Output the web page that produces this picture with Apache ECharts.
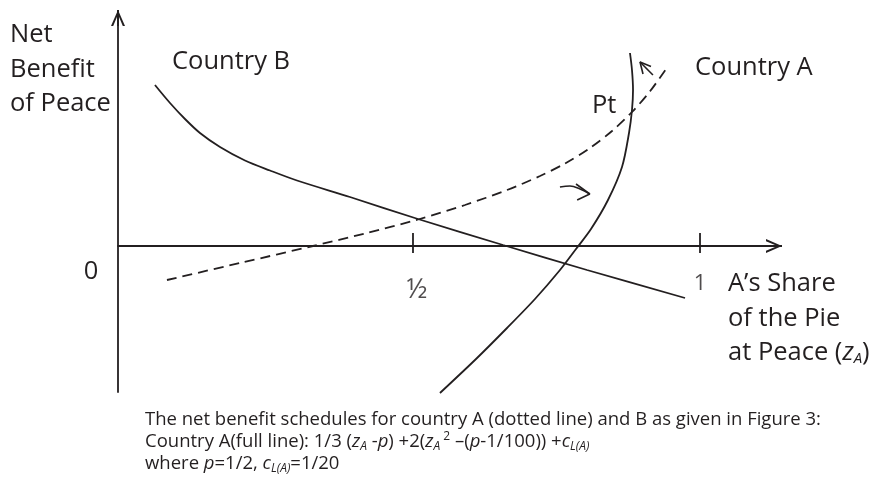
<!DOCTYPE html>
<html>
<head>
<meta charset="utf-8">
<script src="https://cdn.jsdelivr.net/npm/echarts/dist/echarts.min.js"></script>
<style>
  html, body { margin: 0; padding: 0; background: #fff; }
  #chart { width: 875px; height: 486px; }
</style>
</head>
<body>
<div id="chart"></div>
<script>
// x = A's share of the pie, y = net benefit of peace (arbitrary units)
const countryBX = [0.0505, 0.0767, 0.1028, 0.1289, 0.1638, 0.2073, 0.2509, 0.2979, 0.3902, 0.5087, 0.6568, 0.8031, 0.9739];
const countryBY = [0.805, 0.715, 0.635, 0.565, 0.495, 0.4275, 0.3775, 0.3275, 0.245, 0.135, 0.005, -0.12, -0.26];

const countryAX = [0.0714, 0.1986, 0.3258, 0.4164, 0.5087, 0.5906, 0.6638, 0.7213, 0.7648, 0.8084, 0.8467, 0.8815, 0.9129, 0.9408];
const countryAY = [-0.17, -0.085, 0.0, 0.0625, 0.1325, 0.205, 0.28, 0.35, 0.4125, 0.49, 0.575, 0.67, 0.7735, 0.885];

const ptX = [0.547, 0.6098, 0.6638, 0.7125, 0.7561, 0.784, 0.8101, 0.8397, 0.8641, 0.8763, 0.8815, 0.8833, 0.8815, 0.878];
const ptY = [-0.735, -0.565, -0.41, -0.265, -0.12, -0.015, 0.085, 0.23, 0.395, 0.565, 0.68, 0.78, 0.88, 0.965];

// small shift arrows
const arrowLowShaft = [[0.756, 0.295], [0.7735, 0.30], [0.791, 0.285], [0.808, 0.26]];
const arrowLowHead = [[0.784, 0.31], [0.808, 0.26], [0.786, 0.23]];
const arrowHighShaft = [[0.918, 0.855], [0.8955, 0.92]];
const arrowHighHead = [[0.9146, 0.897], [0.8955, 0.92], [0.9007, 0.86]];

const tickValues = [0.5, 1];
const tickLabels = ['½', '1'];
const originLabel = '0';

const yAxisTitle = ['Net', 'Benefit', 'of Peace'];
const xAxisTitle = ['A’s Share', 'of the Pie', 'at Peace ({i|z}{sub|A})'];
const curveLabels = ['Country B', 'Country A', 'Pt'];

const caption = [
  'The net benefit schedules for country A (dotted line) and B as given in Figure 3:',
  'Country A(full line): 1/3 ({i|z}{sub|A} -{i|p}) +2({i|z}{sub|A}{sup| 2} –({i|p}-1/100)) +{i|c}{sub|L(A)}',
  'where {i|p}=1/2, {i|c}{sub|L(A)}=1/20'
];

const INK = '#231f20';
const FONT = '"Open Sans", "Noto Sans", sans-serif';
const BIG = 25.5;
const arrowPath = 'path://M0,16 L7,0 L14,16 L11.8,16 L7,4.6 L2.2,16 Z M6,0 L8,0 L8,16 L6,16 Z';

function zip(xs, ys) {
  return xs.map((x, i) => [x, ys[i]]);
}

function lineSeries(data, opts) {
  return Object.assign({
    type: 'line',
    data: data,
    symbol: 'none',
    clip: false,
    silent: true,
    lineStyle: { color: INK, width: 1.8 }
  }, opts || {});
}

const series = [
  lineSeries(zip(countryBX, countryBY), { smooth: 0.3 }),
  lineSeries(zip(countryAX, countryAY), { smooth: 0.3, lineStyle: { color: INK, width: 1.8, type: [10, 6] } }),
  lineSeries(zip(ptX, ptY), { smooth: 0.3 }),
  lineSeries(arrowLowShaft, { smooth: 0.4, lineStyle: { color: INK, width: 1.6 } }),
  lineSeries(arrowLowHead, { lineStyle: { color: INK, width: 1.6 } }),
  lineSeries(arrowHighShaft, { lineStyle: { color: INK, width: 1.6 } }),
  lineSeries(arrowHighHead, { lineStyle: { color: INK, width: 1.6 } })
];
tickValues.forEach(v => {
  series.push(lineSeries([[v, -0.035], [v, 0.065]], { lineStyle: { color: INK, width: 1.8 } }));
});
// tick labels hang under the axis
series.push({
  type: 'scatter',
  symbolSize: 0,
  silent: true,
  data: tickValues.map((v, i) => ({
    value: [v, 0],
    label: tickLabels[i] === '½' ? { offset: [4, 4], fontSize: 27 } : { offset: [0, 0] }
  })),
  label: {
    show: true,
    position: 'bottom',
    distance: 27,
    fontFamily: FONT,
    fontSize: 22,
    color: INK,
    formatter: p => tickLabels[p.dataIndex]
  }
});

const textStyleBase = { fill: INK, fontFamily: FONT, fontSize: BIG, verticalAlign: 'middle', align: 'left' };
function label(text, x, y, extra) {
  return { type: 'text', x: x, y: y, silent: true, style: Object.assign({ text: text }, textStyleBase, extra || {}) };
}

const graphics = [];
yAxisTitle.forEach((t, i) => graphics.push(label(t, 10, 35 + i * 34.5)));
graphics.push(label(curveLabels[0], 172, 62));
graphics.push(label(curveLabels[1], 695, 68));
graphics.push(label(curveLabels[2], 592, 106));
graphics.push(label(originLabel, 91, 272, { align: 'center' }));
xAxisTitle.forEach((t, i) => graphics.push(label(t, 728, 284 + i * 34.5, {
  rich: {
    i: { fontFamily: FONT, fontSize: BIG, fontStyle: 'italic', fill: INK },
    sub: { fontFamily: FONT, fontSize: 15, fontStyle: 'italic', fill: INK, verticalAlign: 'bottom' }
  }
})));
graphics.push({
  type: 'text', x: 145, y: 409, silent: true,
  style: {
    text: caption.join('\n'),
    fill: INK, fontFamily: FONT, fontSize: 18.5, lineHeight: 22,
    rich: {
      i: { fontFamily: FONT, fontSize: 18.5, fontStyle: 'italic', fill: INK, lineHeight: 22 },
      sub: { fontFamily: FONT, fontSize: 12, fontStyle: 'italic', fill: INK, verticalAlign: 'bottom', lineHeight: 22 },
      sup: { fontFamily: FONT, fontSize: 12, fill: INK, verticalAlign: 'top', lineHeight: 22 }
    }
  }
});

const chart = echarts.init(document.getElementById('chart'), null, { renderer: 'canvas' });
chart.setOption({
  animation: false,
  backgroundColor: '#fff',
  grid: { left: 118, right: 101, top: 18, bottom: 94, containLabel: false },
  xAxis: {
    type: 'value',
    min: -0.0139,
    max: 1.1289,
    axisLine: {
      onZero: true,
      symbol: ['none', arrowPath],
      symbolSize: [14, 16],
      lineStyle: { color: INK, width: 1.8 }
    },
    axisTick: { show: false },
    splitLine: { show: false },
    axisLabel: { show: false }
  },
  yAxis: {
    type: 'value',
    min: -0.73,
    max: 1.14,
    axisLine: {
      onZero: false,
      symbol: ['none', arrowPath],
      symbolSize: [14, 16],
      lineStyle: { color: INK, width: 1.8 }
    },
    axisTick: { show: false },
    axisLabel: { show: false },
    splitLine: { show: false }
  },
  series: series,
  graphic: graphics
});
</script>
</body>
</html>
